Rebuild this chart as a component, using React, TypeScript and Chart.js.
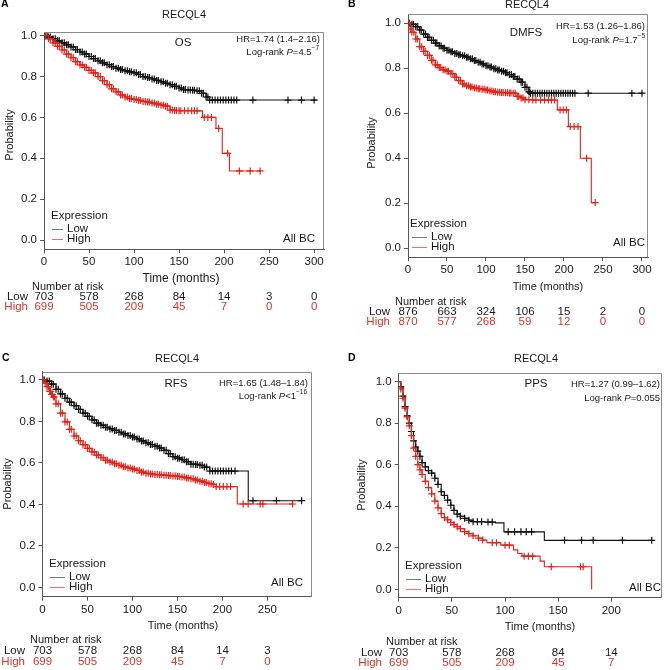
import React, { useEffect, useRef } from "react";
import { Chart, registerables } from "chart.js";

Chart.register(...registerables);

const FONT = '"Liberation Sans", Arial, Helvetica, sans-serif';
const RED = "#e2231a";
const RED_TEXT = "#d8352b";
const BLACK = "#111111";
const TEXT = "#1a1a1a";
const AXIS = "#555555";
const FRAME = "#8a8a8a";

// ---------- shared labels / ticks ----------
const geneName = "RECQL4";
const cohortLabel = "All BC";
const legendTitle = "Expression";
const groupLow = "Low";
const groupHigh = "High";
const riskTitle = "Number at risk";
const yTitle = "Probability";
const xTitle = "Time (months)";
const yTicks = [0, 0.2, 0.4, 0.6, 0.8, 1.0];
const xTicks300 = [0, 50, 100, 150, 200, 250, 300];
const xTicks250 = [0, 50, 100, 150, 200, 250];
const xTicks200 = [0, 50, 100, 150, 200];

// ---------- A: OS ----------
const osLowT = [0, 5, 10, 15, 20, 25, 30, 35, 40, 45, 50, 55, 60, 65, 70, 75, 80, 85, 90, 95, 100, 105, 110, 115, 120, 125, 130, 135, 140, 145, 150, 155, 160, 165, 170, 175, 180, 184, 303];
const osLowS = [1.0, 0.993, 0.985, 0.975, 0.965, 0.955, 0.945, 0.932, 0.92, 0.91, 0.898, 0.888, 0.877, 0.867, 0.858, 0.849, 0.841, 0.834, 0.828, 0.823, 0.818, 0.81, 0.8, 0.795, 0.788, 0.781, 0.774, 0.767, 0.76, 0.752, 0.744, 0.736, 0.734, 0.733, 0.73, 0.718, 0.7, 0.685, 0.685];
const osLowCensor = [1.5, 3.5, 7, 12.5, 17, 22.5, 27, 32.5, 37, 42.5, 47, 52.5, 57, 62.5, 67, 72.5, 77, 82.5, 87, 92.5, 97, 102.5, 107, 112.5, 117, 122.5, 127, 132.5, 137, 142.5, 147, 152.5, 157, 162.5, 167, 172.5, 177, 182,
  187, 190, 193, 196, 199, 202, 205, 208, 211, 214, 232, 271, 286, 300];
const osHighT = [0, 5, 10, 15, 20, 25, 30, 35, 40, 45, 50, 55, 60, 65, 70, 75, 80, 85, 90, 95, 100, 105, 110, 115, 120, 125, 130, 135, 140, 145, 150, 160, 170, 176, 191, 198, 206, 241];
const osHighS = [1.0, 0.985, 0.965, 0.948, 0.93, 0.91, 0.892, 0.873, 0.857, 0.845, 0.83, 0.818, 0.8, 0.78, 0.76, 0.74, 0.725, 0.71, 0.7, 0.692, 0.688, 0.683, 0.678, 0.675, 0.67, 0.665, 0.66, 0.655, 0.636, 0.634, 0.633, 0.633, 0.632, 0.6, 0.546, 0.424, 0.338, 0.338];
const osHighCensor = [2, 7, 12.5, 17, 22.5, 27, 32.5, 37, 42.5, 47, 52.5, 57, 62.5, 67, 72.5, 77, 82.5, 87, 92.5, 97, 102.5, 107, 112.5, 117, 122.5, 127, 132.5, 137, 142.5, 147, 152, 156, 164, 167,
  178, 182, 186, 194, 204, 217, 229, 240];
const osRiskLow = [703, 578, 268, 84, 14, 3, 0];
const osRiskHigh = [699, 505, 209, 45, 7, 0, 0];

// ---------- B: DMFS ----------
const dmfsLowT = [0, 5, 10, 15, 20, 25, 30, 35, 40, 45, 50, 55, 60, 65, 70, 75, 80, 85, 90, 95, 100, 105, 110, 115, 120, 125, 130, 135, 140, 145, 150, 155, 157, 300];
const dmfsLowS = [1.0, 0.995, 0.985, 0.97, 0.952, 0.937, 0.924, 0.912, 0.899, 0.889, 0.88, 0.873, 0.866, 0.86, 0.855, 0.849, 0.842, 0.834, 0.827, 0.819, 0.811, 0.805, 0.798, 0.792, 0.787, 0.78, 0.772, 0.763, 0.752, 0.738, 0.715, 0.695, 0.689, 0.689];
const dmfsLowCensor = [2, 7, 12.5, 17, 22.5, 27, 32.5, 37, 42.5, 47, 52.5, 57, 62.5, 67, 72.5, 77, 82.5, 87, 92.5, 97, 102.5, 107, 112.5, 117, 122.5, 127, 132.5, 137, 142.5, 147, 152.5, 156,
  160, 163, 166, 169, 172, 175, 178, 181, 184, 187, 190, 193, 196, 199, 202, 205, 208, 211, 214, 231, 287, 300];
const dmfsHighT = [0, 3, 5, 10, 15, 20, 25, 30, 35, 40, 45, 50, 55, 60, 65, 70, 75, 80, 85, 90, 95, 100, 105, 110, 115, 120, 125, 130, 135, 140, 145, 150, 160, 170, 180, 191.5, 205.6, 221, 235, 240];
const dmfsHighS = [1.0, 0.975, 0.96, 0.93, 0.896, 0.875, 0.857, 0.835, 0.815, 0.803, 0.793, 0.787, 0.776, 0.76, 0.745, 0.73, 0.722, 0.717, 0.712, 0.709, 0.707, 0.703, 0.699, 0.695, 0.693, 0.692, 0.691, 0.69, 0.689, 0.675, 0.668, 0.66, 0.659, 0.659, 0.659, 0.615, 0.541, 0.4, 0.203, 0.203];
const dmfsHighCensor = [1.5, 7.5, 12, 17.5, 22, 27.5, 32, 37.5, 42, 47.5, 52, 57.5, 62, 67.5, 72, 77.5, 82, 87.5, 92, 97.5, 102, 107.5, 112, 117.5, 122, 127.5, 132, 137.5, 142, 147.5,
  155, 164, 175, 184, 188, 195, 199, 203, 208, 213, 218, 229, 240];
const dmfsRiskLow = [876, 663, 324, 106, 15, 2, 0];
const dmfsRiskHigh = [870, 577, 268, 59, 12, 0, 0];

// ---------- C: RFS ----------
const rfsLowT = [0, 5, 10, 15, 20, 25, 30, 35, 40, 45, 50, 55, 60, 65, 70, 75, 80, 85, 90, 95, 100, 105, 110, 115, 120, 125, 130, 135, 140, 145, 150, 155, 160, 165, 170, 175, 180, 186, 228.7, 289];
const rfsLowS = [1.0, 0.995, 0.98, 0.955, 0.933, 0.912, 0.893, 0.876, 0.858, 0.84, 0.825, 0.808, 0.792, 0.782, 0.772, 0.764, 0.757, 0.748, 0.74, 0.732, 0.725, 0.716, 0.706, 0.697, 0.689, 0.681, 0.672, 0.661, 0.645, 0.63, 0.623, 0.616, 0.606, 0.594, 0.593, 0.589, 0.58, 0.561, 0.418, 0.418];
const rfsLowCensor = [2, 7.5, 12, 17.5, 22, 27.5, 32, 37.5, 42, 47.5, 52, 57.5, 62, 67.5, 72, 77.5, 82, 87.5, 92, 97.5, 102, 107.5, 112, 117.5, 122, 127.5, 132, 137.5, 142, 147.5, 152, 157.5, 162, 167.5, 172, 177.5, 182.5,
  189, 192, 195, 198, 201, 204, 207, 210, 214, 234, 260, 288];
const rfsHighT = [0, 3, 5, 8, 10, 12, 15, 20, 25, 30, 35, 40, 45, 50, 55, 60, 65, 70, 75, 80, 85, 90, 95, 100, 105, 110, 115, 120, 125, 130, 135, 140, 145, 150, 155, 160, 165, 170, 175, 180, 185, 190, 193, 216.5, 279];
const rfsHighS = [1.0, 0.985, 0.968, 0.945, 0.93, 0.918, 0.885, 0.84, 0.798, 0.762, 0.73, 0.707, 0.688, 0.67, 0.653, 0.638, 0.625, 0.613, 0.604, 0.596, 0.589, 0.582, 0.576, 0.571, 0.564, 0.556, 0.55, 0.547, 0.544, 0.543, 0.541, 0.539, 0.537, 0.535, 0.532, 0.528, 0.524, 0.518, 0.512, 0.506, 0.5, 0.496, 0.486, 0.402, 0.402];
const rfsHighCensor = [1.5, 6.5, 9, 11, 13.5, 17.5, 22, 27.5, 32, 37.5, 42, 47.5, 52, 57.5, 62, 67.5, 72, 77.5, 82, 87.5, 92, 97.5, 102, 107.5, 112, 117.5, 122, 127.5, 132, 137.5, 142, 147.5, 152, 157.5, 162, 167.5, 172, 177.5, 182, 187.5,
  197, 201, 205, 209, 223, 228.6, 242, 245, 278];
const rfsRiskLow = [703, 578, 268, 84, 14, 3];
const rfsRiskHigh = [699, 505, 209, 45, 7, 0];

// ---------- D: PPS ----------
const ppsLowT = [0, 2, 4, 6, 8, 10, 12, 14, 16, 18, 20, 22, 25, 28, 31, 34, 37, 40, 43, 46, 49, 52, 55, 58, 62, 66, 70, 80, 91, 99, 137, 238];
const ppsLowS = [1.0, 0.975, 0.93, 0.88, 0.835, 0.8, 0.76, 0.715, 0.685, 0.665, 0.64, 0.61, 0.59, 0.572, 0.56, 0.535, 0.505, 0.47, 0.452, 0.43, 0.405, 0.38, 0.362, 0.352, 0.342, 0.333, 0.326, 0.324, 0.32, 0.277, 0.236, 0.236];
const ppsLowCensor = [74, 78, 84, 88, 103, 109, 115, 120, 125, 156, 172, 183, 210.5, 238];
const ppsHighT = [0, 2, 4, 6, 8, 10, 12, 14, 16, 18, 20, 22, 25, 28, 31, 34, 37, 40, 43, 46, 49, 52, 55, 58, 62, 66, 70, 75, 79, 83, 96, 108, 112, 116, 133, 137, 181.5];
const ppsHighS = [1.0, 0.965, 0.92, 0.872, 0.83, 0.787, 0.74, 0.68, 0.64, 0.6, 0.575, 0.553, 0.52, 0.49, 0.46, 0.425, 0.392, 0.365, 0.345, 0.335, 0.322, 0.312, 0.302, 0.292, 0.278, 0.268, 0.258, 0.247, 0.2375, 0.225, 0.213, 0.19, 0.173, 0.16, 0.136, 0.109, 0.0];
const ppsHighCensor = [88, 92, 100, 104, 118, 122, 126, 143.5, 171, 173.5];
const ppsRiskLow = [703, 578, 268, 84, 14];
const ppsRiskHigh = [699, 505, 209, 45, 7];

type Pos = {
  letter: [number, number];
  title: [number, number];
  endpoint: [number, number];
  hr: [number, number];
  lr: [number, number];
  allbc: [number, number];
  legend: { expX: number; expY: number; x0: number; x1: number; textX: number; yLow: number; yHigh: number };
  prob: [number, number];
  time: [number, number];
  risk: { titleX: number; titleY: number; labelRX: number; yLow: number; yHigh: number };
};

type PanelDef = {
  letter: string;
  endpoint: string;
  hr: string;
  pText: string;
  pExp: string;
  lowT: number[]; lowS: number[]; lowDense: number; lowTail: number[];
  highT: number[]; highS: number[]; highDense: number; highTail: number[];
  xTicks: number[];
  riskLow: number[]; riskHigh: number[];
  xMax: number; yMin: number; yMax: number;
  area: { l: number; r: number; t: number; b: number };
  timeSize: number;
  pos: Pos;
};

const panels: PanelDef[] = [
  {
    letter: "A", endpoint: "OS", hr: "HR=1.74 (1.4–2.16)", pText: "=4.5", pExp: "−7",
    lowT: osLowT, lowS: osLowS, lowDense: 184, lowTail: osLowCensor,
    highT: osHighT, highS: osHighS, highDense: 170, highTail: osHighCensor,
    xTicks: xTicks300, riskLow: osRiskLow, riskHigh: osRiskHigh,
    xMax: 311, yMin: -0.0455, yMax: 1.018,
    area: { l: 44, r: 324, t: 32, b: 249.3 },
    timeSize: 12,
    pos: {
      letter: [1, 4], title: [184, 15], endpoint: [183, 43], hr: [320, 39], lr: [319, 52], allbc: [315, 239],
      legend: { expX: 51, expY: 216, x0: 52, x1: 63, textX: 67, yLow: 229, yHigh: 239 },
      prob: [9.5, 135], time: [181, 279],
      risk: { titleX: 32, titleY: 287, labelRX: 28, yLow: 297, yHigh: 307 },
    },
  },
  {
    letter: "B", endpoint: "DMFS", hr: "HR=1.53 (1.26–1.86)", pText: "=1.7", pExp: "−5",
    lowT: dmfsLowT, lowS: dmfsLowS, lowDense: 157, lowTail: dmfsLowCensor,
    highT: dmfsHighT, highS: dmfsHighS, highDense: 180, highTail: dmfsHighCensor,
    xTicks: xTicks300, riskLow: dmfsRiskLow, riskHigh: dmfsRiskHigh,
    xMax: 307.7, yMin: -0.04, yMax: 1.041,
    area: { l: 408, r: 648, t: 14, b: 257.3 },
    timeSize: 11,
    pos: {
      letter: [348, 4], title: [527, 5], endpoint: [526, 33], hr: [645, 26], lr: [645, 40], allbc: [645, 243],
      legend: { expX: 410, expY: 224, x0: 412, x1: 427, textX: 431, yLow: 236.7, yHigh: 247.3 },
      prob: [372, 143], time: [548, 287],
      risk: { titleX: 395, titleY: 301.7, labelRX: 390, yLow: 311.7, yHigh: 322 },
    },
  },
  {
    letter: "C", endpoint: "RFS", hr: "HR=1.65 (1.48–1.84)", pText: "<1", pExp: "−16",
    lowT: rfsLowT, lowS: rfsLowS, lowDense: 186, lowTail: rfsLowCensor,
    highT: rfsHighT, highS: rfsHighS, highDense: 193, highTail: rfsHighCensor,
    xTicks: xTicks250, riskLow: rfsRiskLow, riskHigh: rfsRiskHigh,
    xMax: 299, yMin: -0.045, yMax: 1.04,
    area: { l: 42.5, r: 311.5, t: 371.7, b: 596.7 },
    timeSize: 11,
    pos: {
      letter: [2, 358], title: [177, 359], endpoint: [176, 384], hr: [308, 383], lr: [307, 396], allbc: [303, 583],
      legend: { expX: 49, expY: 564, x0: 50, x1: 65, textX: 69, yLow: 577, yHigh: 587 },
      prob: [8, 484], time: [183, 626],
      risk: { titleX: 30, titleY: 640, labelRX: 25, yLow: 651, yHigh: 662 },
    },
  },
  {
    letter: "D", endpoint: "PPS", hr: "HR=1.27 (0.99–1.62)", pText: "=0.055", pExp: "",
    lowT: ppsLowT, lowS: ppsLowS, lowDense: 70, lowTail: ppsLowCensor,
    highT: ppsHighT, highS: ppsHighS, highDense: 79, highTail: ppsHighCensor,
    xTicks: xTicks200, riskLow: ppsRiskLow, riskHigh: ppsRiskHigh,
    xMax: 247.5, yMin: -0.04, yMax: 1.04,
    area: { l: 398.7, r: 666, t: 373.3, b: 597.7 },
    timeSize: 11,
    pos: {
      letter: [348, 358], title: [536, 359], endpoint: [536, 384], hr: [660, 384], lr: [660, 398], allbc: [661, 588],
      legend: { expX: 405, expY: 566, x0: 406, x1: 421, textX: 425, yLow: 579, yHigh: 589 },
      prob: [362, 485], time: [540, 627],
      risk: { titleX: 386, titleY: 642, labelRX: 382, yLow: 653, yHigh: 663 },
    },
  },
];

const W = 667;
const H = 670;
const YW = 30;
const XH = 20;

// Kaplan–Meier step corners built from the read points
function stepPoints(T: number[], S: number[]) {
  const pts = [{ x: T[0], y: S[0] }];
  for (let i = 1; i < T.length; i++) {
    pts.push({ x: T[i], y: S[i - 1] });
    pts.push({ x: T[i], y: S[i] });
  }
  return pts;
}

function survivalAt(T: number[], S: number[], t: number) {
  let v = S[0];
  for (let i = 0; i < T.length; i++) {
    if (T[i] <= t) v = S[i];
    else break;
  }
  return v;
}

function censorPoints(T: number[], S: number[], dense: number, tail: number[]) {
  const pts: { x: number; y: number }[] = [];
  for (let i = 1; i < T.length; i++) if (T[i] <= dense) pts.push({ x: T[i], y: S[i] });
  for (const t of tail) pts.push({ x: t, y: survivalAt(T, S, t) });
  return pts;
}

function setFont(ctx: CanvasRenderingContext2D, size: number, extra = "") {
  ctx.font = `${extra} ${size}px ${FONT}`.trim();
}

function drawText(
  ctx: CanvasRenderingContext2D, s: string, x: number, y: number,
  size: number, align: CanvasTextAlign = "left", color = TEXT, extra = ""
) {
  setFont(ctx, size, extra);
  ctx.fillStyle = color;
  ctx.textAlign = align;
  ctx.textBaseline = "middle";
  ctx.fillText(s, x, y);
}

function makeAnnotator(p: PanelDef) {
  return {
    id: "kmAnnotate" + p.letter,
    afterDraw(chart: any) {
      const ctx: CanvasRenderingContext2D = chart.ctx;
      const ca = chart.chartArea;
      const xs = chart.scales.x;
      const o = p.pos;
      ctx.save();

      // frame (top and right sides)
      ctx.strokeStyle = FRAME;
      ctx.lineWidth = 1;
      ctx.beginPath();
      const top = Math.round(ca.top) + 0.5;
      const right = Math.round(ca.right) - 0.5;
      ctx.moveTo(ca.left, top);
      ctx.lineTo(right, top);
      ctx.lineTo(right, ca.bottom);
      ctx.stroke();

      drawText(ctx, p.letter, o.letter[0], o.letter[1], 10.5, "left", "#000", "bold");
      drawText(ctx, geneName, o.title[0], o.title[1], 11, "center");
      drawText(ctx, p.endpoint, o.endpoint[0], o.endpoint[1], 11.5, "center");
      drawText(ctx, p.hr, o.hr[0], o.hr[1], 9.5, "right");

      // Log-rank line with italic P and superscript exponent
      const fs = 9.5;
      const parts: { t: string; size: number; extra: string; sup: boolean }[] = [
        { t: "Log-rank ", size: fs, extra: "", sup: false },
        { t: "P", size: fs, extra: "italic", sup: false },
        { t: p.pText, size: fs, extra: "", sup: false },
      ];
      if (p.pExp) parts.push({ t: p.pExp, size: 6.5, extra: "", sup: true });
      let total = 0;
      for (const pt of parts) { setFont(ctx, pt.size, pt.extra); total += ctx.measureText(pt.t).width; }
      let x = o.lr[0] - total;
      for (const pt of parts) {
        drawText(ctx, pt.t, x, pt.sup ? o.lr[1] - 3.5 : o.lr[1], pt.size, "left", TEXT, pt.extra);
        setFont(ctx, pt.size, pt.extra);
        x += ctx.measureText(pt.t).width;
      }

      drawText(ctx, cohortLabel, o.allbc[0], o.allbc[1], 11.5, "right");

      // legend
      const lg = o.legend;
      drawText(ctx, legendTitle, lg.expX, lg.expY, 11.5);
      ctx.lineWidth = 1;
      ctx.strokeStyle = "#7a7a7a";
      ctx.beginPath();
      ctx.moveTo(lg.x0, Math.round(lg.yLow) + 0.5);
      ctx.lineTo(lg.x1, Math.round(lg.yLow) + 0.5);
      ctx.stroke();
      ctx.strokeStyle = "#e8736b";
      ctx.beginPath();
      ctx.moveTo(lg.x0, Math.round(lg.yHigh) + 0.5);
      ctx.lineTo(lg.x1, Math.round(lg.yHigh) + 0.5);
      ctx.stroke();
      drawText(ctx, groupLow, lg.textX, lg.yLow, 11.5);
      drawText(ctx, groupHigh, lg.textX, lg.yHigh, 11.5);

      // axis titles
      ctx.save();
      ctx.translate(o.prob[0], o.prob[1]);
      ctx.rotate(-Math.PI / 2);
      drawText(ctx, yTitle, 0, 0, 11, "center");
      ctx.restore();
      drawText(ctx, xTitle, o.time[0], o.time[1], p.timeSize, "center");

      // number at risk
      const rk = o.risk;
      drawText(ctx, riskTitle, rk.titleX, rk.titleY, 11);
      drawText(ctx, groupLow, rk.labelRX, rk.yLow, 11.5, "right");
      drawText(ctx, groupHigh, rk.labelRX, rk.yHigh, 11.5, "right", RED_TEXT);
      p.xTicks.forEach((t, i) => {
        const px = xs.getPixelForValue(t);
        if (p.riskLow[i] !== undefined) drawText(ctx, String(p.riskLow[i]), px, rk.yLow, 11.5, "center");
        if (p.riskHigh[i] !== undefined) drawText(ctx, String(p.riskHigh[i]), px, rk.yHigh, 11.5, "center", RED_TEXT);
      });

      ctx.restore();
    },
  };
}

function buildConfig(p: PanelDef): any {
  const a = p.area;
  const tickFont = { family: FONT, size: 11.5 };
  const crossStyle = { showLine: false, pointStyle: "cross", pointRadius: 3.5, pointBorderWidth: 1.2 };
  return {
    type: "line",
    data: {
      datasets: [
        {
          data: stepPoints(p.highT, p.highS),
          borderColor: RED, borderWidth: 1.1, pointRadius: 0, tension: 0, fill: false,
        },
        {
          data: censorPoints(p.highT, p.highS, p.highDense, p.highTail),
          ...crossStyle, pointBorderColor: RED, borderColor: RED, backgroundColor: RED,
        },
        {
          data: stepPoints(p.lowT, p.lowS),
          borderColor: BLACK, borderWidth: 1.1, pointRadius: 0, tension: 0, fill: false,
        },
        {
          data: censorPoints(p.lowT, p.lowS, p.lowDense, p.lowTail),
          ...crossStyle, pointBorderColor: BLACK, borderColor: BLACK, backgroundColor: BLACK,
        },
      ],
    },
    options: {
      animation: false,
      responsive: false,
      maintainAspectRatio: false,
      events: [],
      layout: {
        padding: { left: a.l - YW, right: W - a.r, top: a.t, bottom: H - a.b - XH },
      },
      plugins: {
        legend: { display: false },
        tooltip: { enabled: false },
        title: { display: false },
      },
      scales: {
        x: {
          type: "linear",
          min: 0,
          max: p.xMax,
          afterFit: (s: any) => { s.height = XH; },
          afterBuildTicks: (s: any) => { s.ticks = p.xTicks.map((v) => ({ value: v })); },
          ticks: {
            font: tickFont, color: TEXT, padding: 2, maxRotation: 0, autoSkip: false,
            callback: (v: any) => String(v),
          },
          grid: { display: true, drawOnChartArea: false, drawTicks: true, tickLength: 4, color: AXIS },
          border: { display: true, color: AXIS, width: 1 },
        },
        y: {
          type: "linear",
          min: p.yMin,
          max: p.yMax,
          afterFit: (s: any) => { s.width = YW; },
          afterBuildTicks: (s: any) => { s.ticks = yTicks.map((v) => ({ value: v })); },
          ticks: {
            font: tickFont, color: TEXT, padding: 3, autoSkip: false,
            callback: (v: any) => Number(v).toFixed(1),
          },
          grid: { display: true, drawOnChartArea: false, drawTicks: true, tickLength: 4, color: AXIS },
          border: { display: true, color: AXIS, width: 1 },
        },
      },
    },
    plugins: [makeAnnotator(p)],
  };
}

function KMPanel({ p }: { p: PanelDef }) {
  const ref = useRef<HTMLCanvasElement>(null);
  useEffect(() => {
    if (!ref.current) return;
    const chart = new Chart(ref.current, buildConfig(p));
    return () => chart.destroy();
  }, [p]);
  return (
    <canvas
      ref={ref}
      width={W}
      height={H}
      style={{ position: "absolute", left: 0, top: 0, width: W, height: H }}
    />
  );
}

export default function App() {
  return (
    <div style={{ position: "absolute", left: 0, top: 0, width: W, height: H, background: "#ffffff" }}>
      {panels.map((p) => (
        <KMPanel key={p.letter} p={p} />
      ))}
    </div>
  );
}
